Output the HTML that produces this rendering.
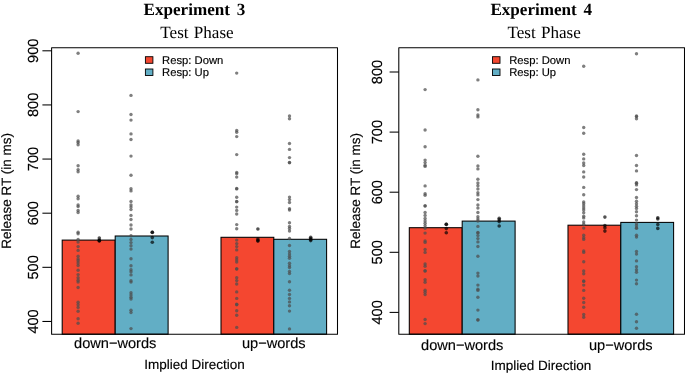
<!DOCTYPE html>
<html><head><meta charset="utf-8"><title>Experiment 3 and 4 - Test Phase</title>
<style>
html,body{margin:0;padding:0;background:#fff;}
svg{display:block;will-change:transform;opacity:0.999;}
text{text-rendering:geometricPrecision;}
.s{font-family:"Liberation Sans",Arial,Helvetica,sans-serif;fill:#000;stroke:#000;stroke-width:0.15px;}
.ax{font-size:13.5px;}
.tk{font-size:14.6px;}
.xn{font-size:14.6px;}
.lg{font-size:11.25px;}
.t1{font-family:"Liberation Serif","Times New Roman",serif;font-weight:bold;font-size:17.1px;word-spacing:2.4px;fill:#000;}
.t2{font-family:"Liberation Serif","Times New Roman",serif;font-size:17.1px;word-spacing:1px;fill:#000;}
</style></head>
<body>
<svg width="685" height="375" viewBox="0 0 685 375">
<rect width="685" height="375" fill="#fff"/>
<rect x="62.20" y="240.10" width="53.00" height="94.10" fill="#f44730" stroke="#000" stroke-width="1.05"/>
<rect x="115.20" y="236.00" width="52.90" height="98.20" fill="#62aec5" stroke="#000" stroke-width="1.05"/>
<rect x="221.00" y="237.30" width="52.80" height="96.90" fill="#f44730" stroke="#000" stroke-width="1.05"/>
<rect x="273.80" y="239.30" width="52.80" height="94.90" fill="#62aec5" stroke="#000" stroke-width="1.05"/>
<rect x="51.6" y="47.7" width="285.90" height="286.50" fill="none" stroke="#000" stroke-width="1.05" stroke-linejoin="round"/>
<line x1="42.40" y1="50.80" x2="51.6" y2="50.80" stroke="#000" stroke-width="1.05"/>
<text class="s tk" transform="translate(38.30,50.80) rotate(-90)" text-anchor="middle">900</text>
<line x1="42.40" y1="104.93" x2="51.6" y2="104.93" stroke="#000" stroke-width="1.05"/>
<text class="s tk" transform="translate(38.30,104.93) rotate(-90)" text-anchor="middle">800</text>
<line x1="42.40" y1="159.06" x2="51.6" y2="159.06" stroke="#000" stroke-width="1.05"/>
<text class="s tk" transform="translate(38.30,159.06) rotate(-90)" text-anchor="middle">700</text>
<line x1="42.40" y1="213.19" x2="51.6" y2="213.19" stroke="#000" stroke-width="1.05"/>
<text class="s tk" transform="translate(38.30,213.19) rotate(-90)" text-anchor="middle">600</text>
<line x1="42.40" y1="267.32" x2="51.6" y2="267.32" stroke="#000" stroke-width="1.05"/>
<text class="s tk" transform="translate(38.30,267.32) rotate(-90)" text-anchor="middle">500</text>
<line x1="42.40" y1="321.45" x2="51.6" y2="321.45" stroke="#000" stroke-width="1.05"/>
<text class="s tk" transform="translate(38.30,321.45) rotate(-90)" text-anchor="middle">400</text>
<g fill="rgba(77,77,77,0.72)">
<circle cx="78.1" cy="53.3" r="1.7"/>
<circle cx="78.1" cy="111.6" r="1.7"/>
<circle cx="78.1" cy="141.0" r="1.7"/>
<circle cx="78.1" cy="142.5" r="1.7"/>
<circle cx="78.1" cy="144.8" r="1.7"/>
<circle cx="78.1" cy="165.8" r="1.7"/>
<circle cx="78.1" cy="169.6" r="1.7"/>
<circle cx="78.1" cy="171.8" r="1.7"/>
<circle cx="78.1" cy="196.2" r="1.7"/>
<circle cx="78.1" cy="198.7" r="1.7"/>
<circle cx="78.1" cy="205.0" r="1.7"/>
<circle cx="78.1" cy="206.6" r="1.7"/>
<circle cx="78.1" cy="210.4" r="1.7"/>
<circle cx="78.1" cy="212.5" r="1.7"/>
<circle cx="78.1" cy="232.3" r="1.7"/>
<circle cx="78.1" cy="233.8" r="1.7"/>
<circle cx="78.1" cy="239.5" r="1.7"/>
<circle cx="78.1" cy="242.0" r="1.7"/>
<circle cx="78.1" cy="246.6" r="1.7"/>
<circle cx="78.1" cy="250.4" r="1.7"/>
<circle cx="78.1" cy="256.2" r="1.7"/>
<circle cx="78.1" cy="258.9" r="1.7"/>
<circle cx="78.1" cy="260.8" r="1.7"/>
<circle cx="78.1" cy="263.0" r="1.7"/>
<circle cx="78.1" cy="265.5" r="1.7"/>
<circle cx="78.1" cy="270.2" r="1.7"/>
<circle cx="78.1" cy="274.6" r="1.7"/>
<circle cx="78.1" cy="277.7" r="1.7"/>
<circle cx="78.1" cy="280.2" r="1.7"/>
<circle cx="78.1" cy="282.1" r="1.7"/>
<circle cx="78.1" cy="287.5" r="1.7"/>
<circle cx="78.1" cy="302.3" r="1.7"/>
<circle cx="78.1" cy="304.8" r="1.7"/>
<circle cx="78.1" cy="307.4" r="1.7"/>
<circle cx="78.1" cy="311.2" r="1.7"/>
<circle cx="78.1" cy="318.7" r="1.7"/>
<circle cx="78.1" cy="323.3" r="1.7"/>
<circle cx="131.0" cy="95.4" r="1.7"/>
<circle cx="131.0" cy="114.5" r="1.7"/>
<circle cx="131.0" cy="120.1" r="1.7"/>
<circle cx="131.0" cy="133.9" r="1.7"/>
<circle cx="131.0" cy="139.5" r="1.7"/>
<circle cx="131.0" cy="156.1" r="1.7"/>
<circle cx="131.0" cy="175.2" r="1.7"/>
<circle cx="131.0" cy="188.7" r="1.7"/>
<circle cx="131.0" cy="190.9" r="1.7"/>
<circle cx="131.0" cy="201.5" r="1.7"/>
<circle cx="131.0" cy="205.0" r="1.7"/>
<circle cx="131.0" cy="207.1" r="1.7"/>
<circle cx="131.0" cy="209.6" r="1.7"/>
<circle cx="131.0" cy="215.4" r="1.7"/>
<circle cx="131.0" cy="219.5" r="1.7"/>
<circle cx="131.0" cy="225.0" r="1.7"/>
<circle cx="131.0" cy="229.0" r="1.7"/>
<circle cx="131.0" cy="235.7" r="1.7"/>
<circle cx="131.0" cy="239.5" r="1.7"/>
<circle cx="131.0" cy="242.6" r="1.7"/>
<circle cx="131.0" cy="245.7" r="1.7"/>
<circle cx="131.0" cy="249.1" r="1.7"/>
<circle cx="131.0" cy="258.7" r="1.7"/>
<circle cx="131.0" cy="265.8" r="1.7"/>
<circle cx="131.0" cy="269.8" r="1.7"/>
<circle cx="131.0" cy="271.8" r="1.7"/>
<circle cx="131.0" cy="274.9" r="1.7"/>
<circle cx="131.0" cy="280.8" r="1.7"/>
<circle cx="131.0" cy="282.1" r="1.7"/>
<circle cx="131.0" cy="292.8" r="1.7"/>
<circle cx="131.0" cy="294.9" r="1.7"/>
<circle cx="131.0" cy="297.2" r="1.7"/>
<circle cx="131.0" cy="299.0" r="1.7"/>
<circle cx="131.0" cy="310.3" r="1.7"/>
<circle cx="131.0" cy="312.6" r="1.7"/>
<circle cx="131.0" cy="328.6" r="1.7"/>
<circle cx="236.7" cy="73.1" r="1.7"/>
<circle cx="236.7" cy="130.4" r="1.7"/>
<circle cx="236.7" cy="132.2" r="1.7"/>
<circle cx="236.7" cy="136.6" r="1.7"/>
<circle cx="236.7" cy="154.6" r="1.7"/>
<circle cx="236.7" cy="172.4" r="1.7"/>
<circle cx="236.7" cy="173.7" r="1.7"/>
<circle cx="236.7" cy="177.1" r="1.7"/>
<circle cx="236.7" cy="188.5" r="1.7"/>
<circle cx="236.7" cy="188.9" r="1.7"/>
<circle cx="236.7" cy="197.2" r="1.7"/>
<circle cx="236.7" cy="201.4" r="1.7"/>
<circle cx="236.7" cy="201.8" r="1.7"/>
<circle cx="236.7" cy="207.1" r="1.7"/>
<circle cx="236.7" cy="210.4" r="1.7"/>
<circle cx="236.7" cy="214.0" r="1.7"/>
<circle cx="236.7" cy="224.6" r="1.7"/>
<circle cx="236.7" cy="228.8" r="1.7"/>
<circle cx="236.7" cy="240.1" r="1.7"/>
<circle cx="236.7" cy="243.6" r="1.7"/>
<circle cx="236.7" cy="246.6" r="1.7"/>
<circle cx="236.7" cy="249.9" r="1.7"/>
<circle cx="236.7" cy="257.7" r="1.7"/>
<circle cx="236.7" cy="259.9" r="1.7"/>
<circle cx="236.7" cy="262.1" r="1.7"/>
<circle cx="236.7" cy="268.7" r="1.7"/>
<circle cx="236.7" cy="269.1" r="1.7"/>
<circle cx="236.7" cy="277.7" r="1.7"/>
<circle cx="236.7" cy="280.6" r="1.7"/>
<circle cx="236.7" cy="284.0" r="1.7"/>
<circle cx="236.7" cy="291.9" r="1.7"/>
<circle cx="236.7" cy="298.4" r="1.7"/>
<circle cx="236.7" cy="304.3" r="1.7"/>
<circle cx="236.7" cy="304.8" r="1.7"/>
<circle cx="236.7" cy="310.7" r="1.7"/>
<circle cx="236.7" cy="315.3" r="1.7"/>
<circle cx="236.7" cy="327.4" r="1.7"/>
<circle cx="289.5" cy="115.9" r="1.7"/>
<circle cx="289.5" cy="118.7" r="1.7"/>
<circle cx="289.5" cy="143.5" r="1.7"/>
<circle cx="289.5" cy="149.4" r="1.7"/>
<circle cx="289.5" cy="157.6" r="1.7"/>
<circle cx="289.5" cy="162.4" r="1.7"/>
<circle cx="289.5" cy="162.8" r="1.7"/>
<circle cx="289.5" cy="197.1" r="1.7"/>
<circle cx="289.5" cy="199.6" r="1.7"/>
<circle cx="289.5" cy="202.5" r="1.7"/>
<circle cx="289.5" cy="208.8" r="1.7"/>
<circle cx="289.5" cy="210.0" r="1.7"/>
<circle cx="289.5" cy="222.8" r="1.7"/>
<circle cx="289.5" cy="226.5" r="1.7"/>
<circle cx="289.5" cy="228.5" r="1.7"/>
<circle cx="289.5" cy="231.0" r="1.7"/>
<circle cx="289.5" cy="238.5" r="1.7"/>
<circle cx="289.5" cy="245.5" r="1.7"/>
<circle cx="289.5" cy="251.4" r="1.7"/>
<circle cx="289.5" cy="253.9" r="1.7"/>
<circle cx="289.5" cy="256.2" r="1.7"/>
<circle cx="289.5" cy="258.3" r="1.7"/>
<circle cx="289.5" cy="263.3" r="1.7"/>
<circle cx="289.5" cy="265.8" r="1.7"/>
<circle cx="289.5" cy="267.6" r="1.7"/>
<circle cx="289.5" cy="271.4" r="1.7"/>
<circle cx="289.5" cy="273.6" r="1.7"/>
<circle cx="289.5" cy="281.8" r="1.7"/>
<circle cx="289.5" cy="290.2" r="1.7"/>
<circle cx="289.5" cy="294.5" r="1.7"/>
<circle cx="289.5" cy="298.4" r="1.7"/>
<circle cx="289.5" cy="301.9" r="1.7"/>
<circle cx="289.5" cy="305.8" r="1.7"/>
<circle cx="289.5" cy="311.1" r="1.7"/>
<circle cx="289.5" cy="328.9" r="1.7"/>
</g>
<g fill="rgba(0,0,0,0.68)">
<circle cx="99.3" cy="238.0" r="1.8"/>
<circle cx="99.3" cy="240.2" r="1.8"/>
<circle cx="99.3" cy="240.6" r="1.8"/>
<circle cx="99.3" cy="241.0" r="1.8"/>
<circle cx="152.3" cy="232.2" r="1.8"/>
<circle cx="152.3" cy="232.4" r="1.8"/>
<circle cx="152.3" cy="237.6" r="1.8"/>
<circle cx="152.3" cy="242.3" r="1.8"/>
<circle cx="257.9" cy="229.0" r="1.8"/>
<circle cx="257.9" cy="239.1" r="1.8"/>
<circle cx="257.9" cy="240.4" r="1.8"/>
<circle cx="257.9" cy="241.1" r="1.8"/>
<circle cx="310.7" cy="237.2" r="1.8"/>
<circle cx="310.7" cy="238.5" r="1.8"/>
<circle cx="310.7" cy="239.6" r="1.8"/>
<circle cx="310.7" cy="240.6" r="1.8"/>
</g>
<rect x="145.40" y="56.7" width="7.5" height="6.6" fill="#f44730" stroke="#000" stroke-width="0.9"/>
<rect x="145.40" y="69.0" width="7.5" height="6.5" fill="#62aec5" stroke="#000" stroke-width="0.9"/>
<text class="s lg" x="162.10" y="63.9">Resp: Down</text>
<text class="s lg" x="162.10" y="75.6">Resp: Up</text>
<text class="t1" x="194.40" y="15.3" text-anchor="middle">Experiment 3</text>
<text class="t2" x="197.00" y="38.2" text-anchor="middle">Test Phase</text>
<text class="s xn" x="115.20" y="348.2" text-anchor="middle">down−words</text>
<text class="s xn" x="273.80" y="348.2" text-anchor="middle">up−words</text>
<text class="s ax" x="194.55" y="368.8" text-anchor="middle">Implied Direction</text>
<text class="s ax" transform="translate(11.20,190.95) rotate(-90)" text-anchor="middle">Release RT (in ms)</text>
<rect x="409.30" y="227.70" width="52.90" height="106.50" fill="#f44730" stroke="#000" stroke-width="1.05"/>
<rect x="462.20" y="221.10" width="52.90" height="113.10" fill="#62aec5" stroke="#000" stroke-width="1.05"/>
<rect x="568.00" y="225.20" width="52.80" height="109.00" fill="#f44730" stroke="#000" stroke-width="1.05"/>
<rect x="620.80" y="222.40" width="52.80" height="111.80" fill="#62aec5" stroke="#000" stroke-width="1.05"/>
<rect x="398.8" y="47.7" width="285.70" height="286.50" fill="none" stroke="#000" stroke-width="1.05" stroke-linejoin="round"/>
<line x1="389.60" y1="72.00" x2="398.8" y2="72.00" stroke="#000" stroke-width="1.05"/>
<text class="s tk" transform="translate(382.20,72.00) rotate(-90)" text-anchor="middle">800</text>
<line x1="389.60" y1="132.10" x2="398.8" y2="132.10" stroke="#000" stroke-width="1.05"/>
<text class="s tk" transform="translate(382.20,132.10) rotate(-90)" text-anchor="middle">700</text>
<line x1="389.60" y1="192.20" x2="398.8" y2="192.20" stroke="#000" stroke-width="1.05"/>
<text class="s tk" transform="translate(382.20,192.20) rotate(-90)" text-anchor="middle">600</text>
<line x1="389.60" y1="252.30" x2="398.8" y2="252.30" stroke="#000" stroke-width="1.05"/>
<text class="s tk" transform="translate(382.20,252.30) rotate(-90)" text-anchor="middle">500</text>
<line x1="389.60" y1="312.40" x2="398.8" y2="312.40" stroke="#000" stroke-width="1.05"/>
<text class="s tk" transform="translate(382.20,312.40) rotate(-90)" text-anchor="middle">400</text>
<g fill="rgba(77,77,77,0.72)">
<circle cx="425.1" cy="89.6" r="1.7"/>
<circle cx="425.1" cy="130.0" r="1.7"/>
<circle cx="425.1" cy="146.7" r="1.7"/>
<circle cx="425.1" cy="160.1" r="1.7"/>
<circle cx="425.1" cy="162.6" r="1.7"/>
<circle cx="425.1" cy="165.2" r="1.7"/>
<circle cx="425.1" cy="166.4" r="1.7"/>
<circle cx="425.1" cy="185.9" r="1.7"/>
<circle cx="425.1" cy="193.7" r="1.7"/>
<circle cx="425.1" cy="195.2" r="1.7"/>
<circle cx="425.1" cy="205.7" r="1.7"/>
<circle cx="425.1" cy="206.1" r="1.7"/>
<circle cx="425.1" cy="212.5" r="1.7"/>
<circle cx="425.1" cy="215.4" r="1.7"/>
<circle cx="425.1" cy="218.4" r="1.7"/>
<circle cx="425.1" cy="221.0" r="1.7"/>
<circle cx="425.1" cy="223.2" r="1.7"/>
<circle cx="425.1" cy="225.8" r="1.7"/>
<circle cx="425.1" cy="228.3" r="1.7"/>
<circle cx="425.1" cy="233.1" r="1.7"/>
<circle cx="425.1" cy="240.9" r="1.7"/>
<circle cx="425.1" cy="242.4" r="1.7"/>
<circle cx="425.1" cy="249.4" r="1.7"/>
<circle cx="425.1" cy="252.4" r="1.7"/>
<circle cx="425.1" cy="264.0" r="1.7"/>
<circle cx="425.1" cy="266.2" r="1.7"/>
<circle cx="425.1" cy="270.7" r="1.7"/>
<circle cx="425.1" cy="271.1" r="1.7"/>
<circle cx="425.1" cy="279.7" r="1.7"/>
<circle cx="425.1" cy="282.2" r="1.7"/>
<circle cx="425.1" cy="290.2" r="1.7"/>
<circle cx="425.1" cy="292.3" r="1.7"/>
<circle cx="425.1" cy="294.6" r="1.7"/>
<circle cx="425.1" cy="319.5" r="1.7"/>
<circle cx="425.1" cy="323.6" r="1.7"/>
<circle cx="477.9" cy="79.9" r="1.7"/>
<circle cx="477.9" cy="109.7" r="1.7"/>
<circle cx="477.9" cy="115.0" r="1.7"/>
<circle cx="477.9" cy="116.9" r="1.7"/>
<circle cx="477.9" cy="156.3" r="1.7"/>
<circle cx="477.9" cy="165.9" r="1.7"/>
<circle cx="477.9" cy="168.9" r="1.7"/>
<circle cx="477.9" cy="179.3" r="1.7"/>
<circle cx="477.9" cy="183.0" r="1.7"/>
<circle cx="477.9" cy="185.8" r="1.7"/>
<circle cx="477.9" cy="189.0" r="1.7"/>
<circle cx="477.9" cy="192.8" r="1.7"/>
<circle cx="477.9" cy="194.9" r="1.7"/>
<circle cx="477.9" cy="199.6" r="1.7"/>
<circle cx="477.9" cy="205.0" r="1.7"/>
<circle cx="477.9" cy="208.1" r="1.7"/>
<circle cx="477.9" cy="212.5" r="1.7"/>
<circle cx="477.9" cy="216.8" r="1.7"/>
<circle cx="477.9" cy="219.0" r="1.7"/>
<circle cx="477.9" cy="221.0" r="1.7"/>
<circle cx="477.9" cy="226.4" r="1.7"/>
<circle cx="477.9" cy="232.5" r="1.7"/>
<circle cx="477.9" cy="232.9" r="1.7"/>
<circle cx="477.9" cy="235.6" r="1.7"/>
<circle cx="477.9" cy="238.6" r="1.7"/>
<circle cx="477.9" cy="241.9" r="1.7"/>
<circle cx="477.9" cy="246.5" r="1.7"/>
<circle cx="477.9" cy="256.2" r="1.7"/>
<circle cx="477.9" cy="273.1" r="1.7"/>
<circle cx="477.9" cy="276.0" r="1.7"/>
<circle cx="477.9" cy="285.1" r="1.7"/>
<circle cx="477.9" cy="289.2" r="1.7"/>
<circle cx="477.9" cy="290.4" r="1.7"/>
<circle cx="477.9" cy="297.3" r="1.7"/>
<circle cx="477.9" cy="310.1" r="1.7"/>
<circle cx="477.9" cy="319.7" r="1.7"/>
<circle cx="477.9" cy="320.1" r="1.7"/>
<circle cx="583.7" cy="66.3" r="1.7"/>
<circle cx="583.7" cy="127.5" r="1.7"/>
<circle cx="583.7" cy="133.2" r="1.7"/>
<circle cx="583.7" cy="154.2" r="1.7"/>
<circle cx="583.7" cy="158.9" r="1.7"/>
<circle cx="583.7" cy="163.0" r="1.7"/>
<circle cx="583.7" cy="165.5" r="1.7"/>
<circle cx="583.7" cy="171.9" r="1.7"/>
<circle cx="583.7" cy="177.0" r="1.7"/>
<circle cx="583.7" cy="187.4" r="1.7"/>
<circle cx="583.7" cy="194.7" r="1.7"/>
<circle cx="583.7" cy="201.9" r="1.7"/>
<circle cx="583.7" cy="203.7" r="1.7"/>
<circle cx="583.7" cy="205.9" r="1.7"/>
<circle cx="583.7" cy="208.1" r="1.7"/>
<circle cx="583.7" cy="210.0" r="1.7"/>
<circle cx="583.7" cy="212.7" r="1.7"/>
<circle cx="583.7" cy="216.2" r="1.7"/>
<circle cx="583.7" cy="217.9" r="1.7"/>
<circle cx="583.7" cy="222.0" r="1.7"/>
<circle cx="583.7" cy="224.3" r="1.7"/>
<circle cx="583.7" cy="228.1" r="1.7"/>
<circle cx="583.7" cy="235.2" r="1.7"/>
<circle cx="583.7" cy="237.7" r="1.7"/>
<circle cx="583.7" cy="239.4" r="1.7"/>
<circle cx="583.7" cy="250.9" r="1.7"/>
<circle cx="583.7" cy="252.4" r="1.7"/>
<circle cx="583.7" cy="261.8" r="1.7"/>
<circle cx="583.7" cy="270.9" r="1.7"/>
<circle cx="583.7" cy="273.8" r="1.7"/>
<circle cx="583.7" cy="281.0" r="1.7"/>
<circle cx="583.7" cy="281.4" r="1.7"/>
<circle cx="583.7" cy="285.1" r="1.7"/>
<circle cx="583.7" cy="290.4" r="1.7"/>
<circle cx="583.7" cy="298.2" r="1.7"/>
<circle cx="583.7" cy="302.5" r="1.7"/>
<circle cx="583.7" cy="307.3" r="1.7"/>
<circle cx="583.7" cy="314.5" r="1.7"/>
<circle cx="583.7" cy="317.3" r="1.7"/>
<circle cx="636.5" cy="53.8" r="1.7"/>
<circle cx="636.5" cy="115.9" r="1.7"/>
<circle cx="636.5" cy="116.6" r="1.7"/>
<circle cx="636.5" cy="118.7" r="1.7"/>
<circle cx="636.5" cy="155.5" r="1.7"/>
<circle cx="636.5" cy="165.5" r="1.7"/>
<circle cx="636.5" cy="170.9" r="1.7"/>
<circle cx="636.5" cy="182.7" r="1.7"/>
<circle cx="636.5" cy="183.2" r="1.7"/>
<circle cx="636.5" cy="184.9" r="1.7"/>
<circle cx="636.5" cy="189.6" r="1.7"/>
<circle cx="636.5" cy="197.5" r="1.7"/>
<circle cx="636.5" cy="201.2" r="1.7"/>
<circle cx="636.5" cy="203.7" r="1.7"/>
<circle cx="636.5" cy="206.2" r="1.7"/>
<circle cx="636.5" cy="208.4" r="1.7"/>
<circle cx="636.5" cy="211.8" r="1.7"/>
<circle cx="636.5" cy="215.7" r="1.7"/>
<circle cx="636.5" cy="220.1" r="1.7"/>
<circle cx="636.5" cy="223.8" r="1.7"/>
<circle cx="636.5" cy="225.8" r="1.7"/>
<circle cx="636.5" cy="227.9" r="1.7"/>
<circle cx="636.5" cy="228.3" r="1.7"/>
<circle cx="636.5" cy="235.2" r="1.7"/>
<circle cx="636.5" cy="237.1" r="1.7"/>
<circle cx="636.5" cy="251.5" r="1.7"/>
<circle cx="636.5" cy="254.1" r="1.7"/>
<circle cx="636.5" cy="260.9" r="1.7"/>
<circle cx="636.5" cy="266.8" r="1.7"/>
<circle cx="636.5" cy="269.7" r="1.7"/>
<circle cx="636.5" cy="272.2" r="1.7"/>
<circle cx="636.5" cy="280.1" r="1.7"/>
<circle cx="636.5" cy="283.8" r="1.7"/>
<circle cx="636.5" cy="314.2" r="1.7"/>
<circle cx="636.5" cy="321.7" r="1.7"/>
<circle cx="636.5" cy="328.3" r="1.7"/>
</g>
<g fill="rgba(0,0,0,0.68)">
<circle cx="446.3" cy="224.2" r="1.8"/>
<circle cx="446.3" cy="224.4" r="1.8"/>
<circle cx="446.3" cy="228.6" r="1.8"/>
<circle cx="446.3" cy="232.7" r="1.8"/>
<circle cx="499.2" cy="218.2" r="1.8"/>
<circle cx="499.2" cy="219.8" r="1.8"/>
<circle cx="499.2" cy="221.6" r="1.8"/>
<circle cx="499.2" cy="226.0" r="1.8"/>
<circle cx="604.9" cy="217.1" r="1.8"/>
<circle cx="604.9" cy="225.6" r="1.8"/>
<circle cx="604.9" cy="227.7" r="1.8"/>
<circle cx="604.9" cy="231.1" r="1.8"/>
<circle cx="657.8" cy="217.7" r="1.8"/>
<circle cx="657.8" cy="219.0" r="1.8"/>
<circle cx="657.8" cy="224.5" r="1.8"/>
<circle cx="657.8" cy="228.4" r="1.8"/>
</g>
<rect x="492.50" y="56.7" width="7.5" height="6.6" fill="#f44730" stroke="#000" stroke-width="0.9"/>
<rect x="492.50" y="69.0" width="7.5" height="6.5" fill="#62aec5" stroke="#000" stroke-width="0.9"/>
<text class="s lg" x="509.20" y="63.9">Resp: Down</text>
<text class="s lg" x="509.20" y="75.6">Resp: Up</text>
<text class="t1" x="541.20" y="15.3" text-anchor="middle">Experiment 4</text>
<text class="t2" x="544.10" y="38.2" text-anchor="middle">Test Phase</text>
<text class="s xn" x="462.20" y="349.9" text-anchor="middle">down−words</text>
<text class="s xn" x="620.80" y="349.9" text-anchor="middle">up−words</text>
<text class="s ax" x="541.05" y="369.8" text-anchor="middle">Implied Direction</text>
<text class="s ax" transform="translate(359.70,190.95) rotate(-90)" text-anchor="middle">Release RT (in ms)</text>
</svg>
</body></html>
